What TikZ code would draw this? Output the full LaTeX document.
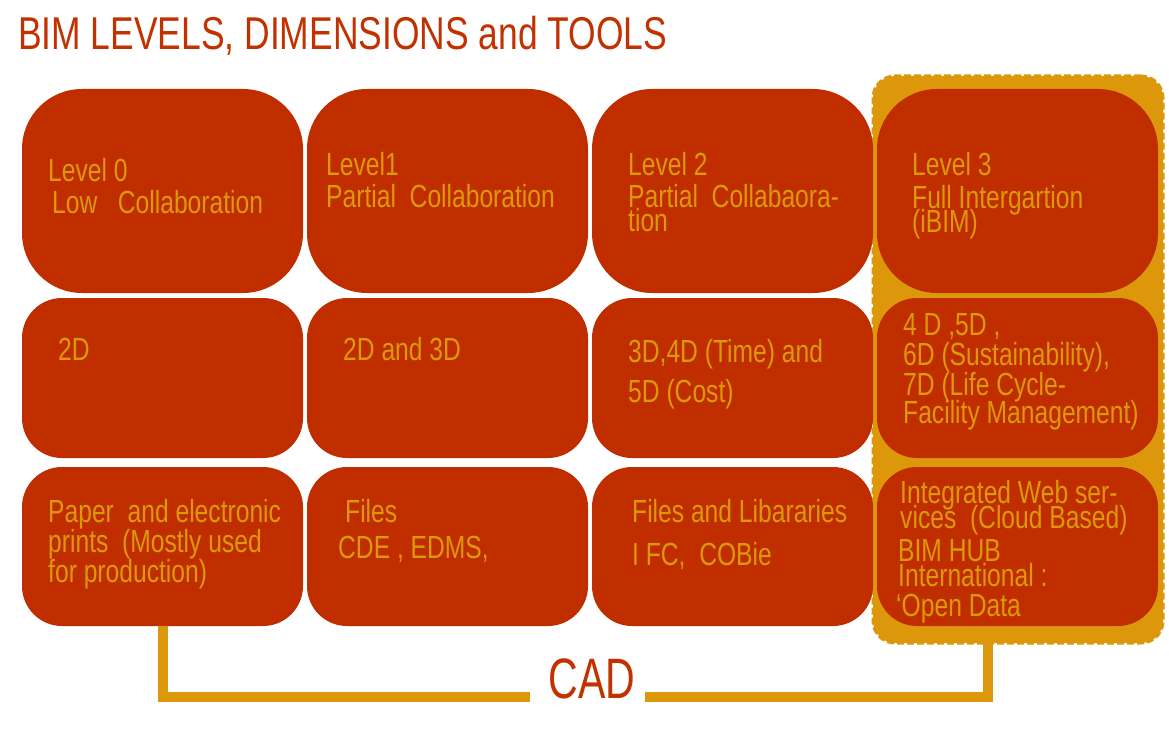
\documentclass[tikz,border=0pt]{standalone}
\usepackage{fontspec}
\setmainfont{Liberation Sans}
\newfontfamily\titlefont{Liberation Sans}[FakeStretch=0.77]
\newfontfamily\boxfont{Liberation Sans}[FakeStretch=0.77]
\newfontfamily\cadfont{Liberation Sans}[FakeStretch=0.72]
\definecolor{boxred}{RGB}{192,46,0}
\definecolor{titlered}{RGB}{194,50,0}
\definecolor{gold}{RGB}{220,152,10}
\tikzset{
  bimbox/.style={fill=boxred, draw=none, inner sep=0pt, outer sep=0pt, anchor=north west},
  rowone/.style={bimbox, minimum width=281pt, minimum height=204pt, rounded corners=60pt},
  rowtwo/.style={bimbox, minimum width=281pt, minimum height=160pt, rounded corners=40pt},
  rowthree/.style={bimbox, minimum width=281pt, minimum height=159pt, rounded corners=40pt},
  txt/.style={text=gold, font=\boxfont\fontsize{32}{32}\selectfont, inner sep=0pt, anchor=base west},
  bracket/.style={draw=gold, line width=10pt},
}
\begin{document}
\begin{tikzpicture}[x=1pt,y=-1pt]
\useasboundingbox (0,0) rectangle (1169,733);
% title
\node[text=titlered, font=\titlefont\fontsize{46}{46}\selectfont, inner sep=0pt, anchor=base west] (title) at (18,50) {BIM LEVELS, DIMENSIONS and TOOLS};
% highlight frame for level 3
\node[fill=gold, draw=gold, dashed, dash pattern=on 7pt off 3pt, line width=3pt, rounded corners=22pt, minimum width=290pt, minimum height=567pt, inner sep=0pt, anchor=north west] (frame) at (871.5,74.5) {};
% boxes
\node[rowone] (b10) at (22,89) {};
\node[rowone] (b11) at (307,89) {};
\node[rowone] (b12) at (592,89) {};
\node[rowone] (b13) at (877,89) {};
\node[rowtwo] (b20) at (22,298) {};
\node[rowtwo] (b21) at (307,298) {};
\node[rowtwo] (b22) at (592,298) {};
\node[rowtwo] (b23) at (877,298) {};
\node[rowthree] (b30) at (22,467) {};
\node[rowthree] (b31) at (307,467) {};
\node[rowthree] (b32) at (592,467) {};
\node[rowthree] (b33) at (877,467) {};
% row 1 texts
\node[txt] (t10a) at (48,181) {Level 0};
\node[txt] (t10b) at (52,213) {Low\ \ \ Collaboration};
\node[txt] (t11a) at (326,175) {Level1};
\node[txt] (t11b) at (326,207) {Partial\ \ Collaboration};
\node[txt] (t12a) at (628,175) {Level 2};
\node[txt] (t12b) at (628,207) {Partial\ \ Collabaora-};
\node[txt] (t12c) at (628,231) {tion};
\node[txt] (t13a) at (912,175) {Level 3};
\node[txt] (t13b) at (912,208) {Full Intergartion};
\node[txt] (t13c) at (912,232) {(iBIM)};
% row 2 texts
\node[txt] (t20) at (58,360) {2D};
\node[txt] (t21) at (343,360) {2D and 3D};
\node[txt] (t22a) at (628,362) {3D,4D (Time) and};
\node[txt] (t22b) at (628,402) {5D (Cost)};
\node[txt] (t23a) at (903,335) {4 D ,5D ,};
\node[txt] (t23b) at (903,365) {6D (Sustainability),};
\node[txt] (t23c) at (903,395) {7D (Life Cycle-};
\node[txt] (t23d) at (903,423) {Facility Management)};
% row 3 texts
\node[txt] (t30a) at (48,522) {Paper\ \ and electronic};
\node[txt] (t30b) at (48,552) {prints\ \ (Mostly used};
\node[txt] (t30c) at (48,582) {for production)};
\node[txt] (t31a) at (345,522) {Files};
\node[txt] (t31b) at (338,558) {CDE , EDMS,};
\node[txt] (t32a) at (632,522) {Files and Libararies};
\node[txt] (t32b) at (632,565) {I FC,\ \ COBie};
\node[txt] (t33a) at (900,503) {Integrated Web ser-};
\node[txt] (t33b) at (900,528) {vices\ \ (Cloud Based)};
\node[txt] (t33c) at (898,561) {BIM HUB};
\node[txt] (t33d) at (898,586) {International :};
\node[txt] (t33e) at (896,616) {‘Open Data};
% CAD bracket
\node[text=titlered, font=\cadfont\fontsize{57}{57}\selectfont, inner sep=0pt, anchor=base] (cad) at (592,698) {CAD};
\coordinate (corner) at (b30.south |- 0,697);
\coordinate (rcorner) at (988,697);
\coordinate (rtop) at (988,641);
\draw[bracket] (b30.south) -- (corner) -- ([xshift=-18pt]cad.west |- corner);
\draw[bracket] ([xshift=9pt]cad.east |- corner) -- (rcorner) -- (rtop);
\end{tikzpicture}
\end{document}
